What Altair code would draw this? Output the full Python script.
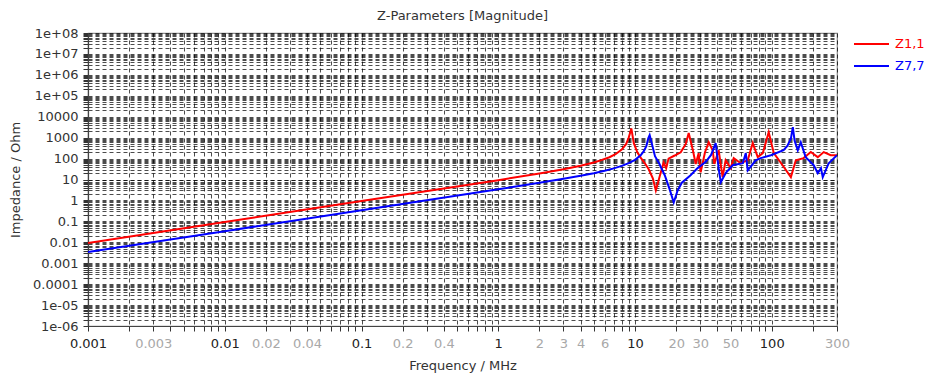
import json
import altair as alt
import pandas as pd

# ---------------- data ----------------
SERIES = ["Z1,1", "Z7,7"]
COLORS = ["#ff0000", "#0000ff"]

F_Z11 = [0.001, 0.01, 0.1, 1, 2, 3, 4, 5, 5.6, 6.5, 7.2, 8, 8.6, 9.0, 9.4, 9.8,
         10.4, 11, 12, 12.6, 13.5, 14.2, 15.2, 16.2, 16.9, 17.6, 19.5, 21.6,
         23.5, 24.7, 26.5, 27.8, 29.2, 30.2, 32.5, 34.6, 37, 38, 40.9, 43.7,
         46, 50.1, 52.7, 59.3, 66.7, 72.6, 79, 86, 95, 103.5, 120, 138, 150,
         171, 193, 217, 240, 270, 300]
Z11 = [0.0093, 0.093, 0.93, 9.3, 19.5, 31, 45, 65, 82, 116, 162, 270, 490,
       1000, 2750, 548, 200, 111, 51, 31, 11.4, 3, 15, 65, 35, 100, 140, 200,
       500, 1650, 250, 55, 180, 22, 200, 600, 250, 55, 250, 13,
       83, 35, 105, 60, 83, 550, 117, 182, 1820, 182, 48, 13, 83,
       105, 205, 117, 205, 145, 145]

F_Z77 = [0.001, 0.01, 0.1, 1, 2, 3, 4, 5, 6, 7, 8, 9, 10, 11, 11.6, 12.1,
         12.5, 12.8, 13.2, 14, 15, 16.5, 18, 19.2, 20.5, 22, 25.5, 28.7, 32.9,
         36, 38.9, 41, 42.4, 46, 51.8, 61.4, 64.6, 66.7, 76.3, 83, 98.5, 122,
         130, 138, 142.6, 147, 155, 163, 177, 203, 217, 229, 236, 261, 300]
Z77 = [0.0034, 0.034, 0.34, 3.4, 7.0, 10.8, 15.1, 20.1, 26.1, 34, 44.6, 60.6,
       87, 143, 225, 388, 920, 1320, 600, 130, 60, 16, 3.1, 0.8, 3, 7, 16, 35,
       70, 150, 550, 30, 7.4, 20, 48, 60, 182, 27, 83, 105, 145, 250,
       400, 900, 3160, 700, 250, 600, 117, 48, 20, 35, 13, 60, 145]

X_LABEL_VALUES = [0.001, 0.003, 0.01, 0.02, 0.04, 0.1, 0.2, 0.4, 1, 2, 3, 4, 6,
                  10, 20, 30, 50, 100, 300]
X_LABELS = ["0.001", "0.003", "0.01", "0.02", "0.04", "0.1", "0.2", "0.4", "1",
            "2", "3", "4", "6", "10", "20", "30", "50", "100", "300"]
Y_LABELS = ["1e-06", "1e-05", "0.0001", "0.001", "0.01", "0.1", "1", "10",
            "100", "1000", "10000", "1e+05", "1e+06", "1e+07", "1e+08"]

TITLE = "Z-Parameters [Magnitude]"
X_TITLE = "Frequency / MHz"
Y_TITLE = "Impedance / Ohm"

# ---------------- build table ----------------
df = pd.concat([
    pd.DataFrame({"f": F_Z11, "z": Z11, "series": SERIES[0]}),
    pd.DataFrame({"f": F_Z77, "z": Z77, "series": SERIES[1]}),
], ignore_index=True)

GRID_X = [round(m * 10.0 ** e, 10) for e in range(-3, 3) for m in range(1, 10)
          if m * 10.0 ** e <= 300.0001]
GRID_Y = [round(m * 10.0 ** e, 12) for e in range(-6, 8) for m in range(1, 10)] + [1e8]

LOG = "(log(datum.value)/LN10)"
IS_DECADE = f"abs({LOG} - round({LOG})) < 0.001"

x_label_expr = (f"indexof({json.dumps(X_LABEL_VALUES)}, datum.value) >= 0 ? "
                f"{json.dumps(X_LABELS)}[indexof({json.dumps(X_LABEL_VALUES)}, datum.value)] : ''")
y_label_expr = f"{IS_DECADE} ? {json.dumps(Y_LABELS)}[round({LOG}) + 6] : ''"

FONT = "DejaVu Sans"
TXT = "#333333"

grid_common = dict(
    grid=True, gridColor="#000000", gridDash=[4, 3], gridOpacity=0.7, gridWidth=1,
    tickColor="#333333", tickSize=5, domainColor="#444444", domainWidth=1.2,
    labelFont=FONT, labelFontSize=13, labelOverlap=False, labelFlush=False,
    labelBound=False, titleFont=FONT, titleFontSize=13, titleFontWeight="normal",
    titleColor=TXT,
)

chart = alt.Chart(df).mark_line(strokeWidth=2, clip=True).encode(
    x=alt.X("f:Q", title=X_TITLE,
            scale=alt.Scale(type="log", domain=[0.001, 300], nice=False),
            axis=alt.Axis(values=GRID_X, labelExpr=x_label_expr,
                          labelColor={"condition": {"test": IS_DECADE, "value": "#222222"},
                                      "value": "#a8a8a8"},
                          labelPadding=6, titlePadding=9, **grid_common)),
    y=alt.Y("z:Q", title=Y_TITLE,
            scale=alt.Scale(type="log", domain=[1e-6, 1e8], nice=False),
            axis=alt.Axis(values=GRID_Y, labelExpr=y_label_expr, labelColor=TXT,
                          labelPadding=5, titlePadding=10, **grid_common)),
    color=alt.Color("series:N",
                    scale=alt.Scale(domain=SERIES, range=COLORS),
                    legend=alt.Legend(title=None, orient="none", legendX=765, legendY=4,
                                      symbolType="stroke", symbolSize=1225,
                                      symbolStrokeWidth=2, labelFont=FONT,
                                      labelFontSize=13, labelOffset=5, rowPadding=8,
                                      clipHeight=14,
                                      labelColor={"expr": "datum.value === 'Z1,1' ? '#ff0000' : '#0000ff'"})),
    order="f:Q",
).properties(
    width=749, height=293,
    title=alt.TitleParams(TITLE, font=FONT, fontSize=13, fontWeight="normal",
                          color=TXT, anchor="middle", offset=4),
    autosize=alt.AutoSizeParams(type="none"),
    padding={"left": 80, "top": 25, "right": 95, "bottom": 50},
).configure_view(stroke="#8a8a8a", strokeWidth=1.2)

chart.save("out.html", embed_options={"renderer": "svg", "actions": False})
